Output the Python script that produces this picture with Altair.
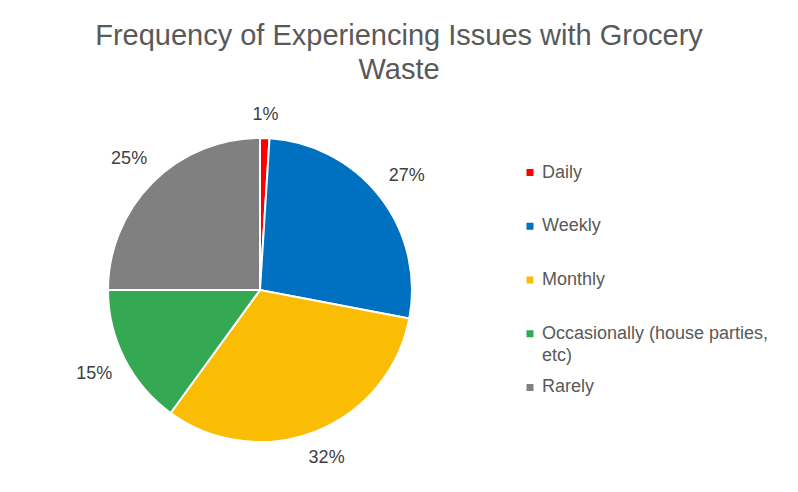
import altair as alt
import pandas as pd

categories = ["Daily", "Weekly", "Monthly", "Occasionally (house parties, etc)", "Rarely"]
values = [1, 27, 32, 15, 25]
label_line1 = ["Daily", "Weekly", "Monthly", "Occasionally (house parties,", "Rarely"]
label_line2 = ["", "", "", "etc)", ""]
colors = ["#FF0000", "#0070C0", "#FBBC04", "#34A853", "#808080"]
title_lines = ["Frequency of Experiencing Issues with Grocery", "Waste"]

df = pd.DataFrame({
    "category": categories,
    "value": values,
    "order": list(range(len(categories))),
    "line1": label_line1,
    "line2": label_line2,
})
df["pct"] = [f"{v}%" for v in values]

FONT = "Liberation Sans"
color_scale = alt.Scale(domain=categories, range=colors)

arcs = alt.Chart(df).mark_arc(outerRadius=152, stroke="white", strokeWidth=2).encode(
    theta=alt.Theta("value:Q", stack=True),
    order=alt.Order("order:Q"),
    color=alt.Color("category:N", scale=color_scale, legend=None),
)
# label at each slice's mid angle, outside end, distance adjusted for text box extent
texts = alt.Chart(df).transform_joinaggregate(
    total="sum(value)"
).transform_window(
    cum="sum(value)", sort=[alt.SortField("order")], frame=[None, 0]
).transform_calculate(
    ang="(datum.cum - datum.value / 2) / datum.total * 2 * PI",
    lr="166 + 9 * abs(cos(datum.ang)) + 18 * abs(sin(datum.ang))",
).mark_text(fontSize=18, font=FONT, color="#404040").encode(
    theta=alt.Theta("ang:Q", scale=None),
    radius=alt.Radius("lr:Q", scale=None),
    text="pct:N",
)
pie = alt.layer(arcs, texts).resolve_scale(theta="independent").properties(width=504, height=380)

yscale = alt.Scale(domain=[-1.349, 5.721], reverse=True, nice=False, zero=False)
leg_base = alt.Chart(df).encode(y=alt.Y("order:Q", scale=yscale, axis=None))
squares = leg_base.mark_square(size=49, opacity=1).encode(
    x=alt.value(18),
    color=alt.Color("category:N", scale=color_scale, legend=None),
)
l1 = leg_base.mark_text(align="left", baseline="middle", fontSize=18, font=FONT, color="#595959").encode(
    x=alt.value(30), text="line1:N"
)
l2 = leg_base.mark_text(align="left", baseline="middle", fontSize=18, font=FONT, color="#595959", dy=22).encode(
    x=alt.value(30), text="line2:N"
)
legend = alt.layer(squares, l1, l2).properties(width=278, height=380)

chart = alt.hconcat(pie, legend, spacing=0).properties(
    title=alt.TitleParams(
        text=title_lines,
        fontSize=29,
        font=FONT,
        fontWeight="normal",
        color="#595959",
        anchor="middle",
        lineHeight=34,
        offset=15.5,
    ),
    padding={"left": 0, "top": 13, "right": 0, "bottom": 0},
).configure_view(stroke=None)

chart.save("out.html", embed_options={"renderer": "svg", "actions": False})
